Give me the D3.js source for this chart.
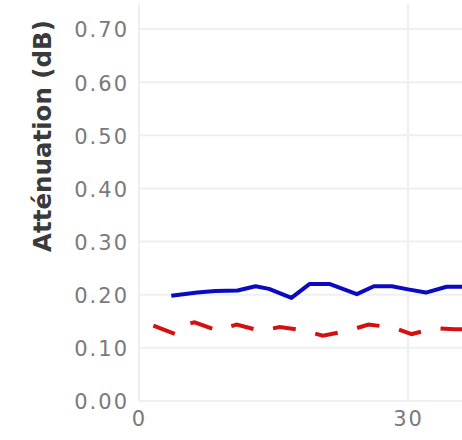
<!DOCTYPE html>
<html>
<head>
<meta charset="utf-8">
<script src="https://cdn.jsdelivr.net/npm/d3@7"></script>
<style>
  html, body { margin: 0; padding: 0; background: #fff; }
  svg { display: block; }
</style>
</head>
<body>
<svg id="chart" width="462" height="440"></svg>
<script>
// ---- data ----
const blueX = [3.6, 6.5, 8.5, 11, 13, 14.5, 17, 19, 21.3, 24.3, 26.2, 28.2, 30, 32, 34.3, 36.5];
const blueY = [0.198, 0.204, 0.207, 0.208, 0.216, 0.211, 0.194, 0.220, 0.220, 0.201, 0.216, 0.216, 0.210, 0.204, 0.215, 0.215];
const redX = [1.6, 4.2, 5.6, 6.2, 8.7, 10.9, 13.5, 15.7, 18.3, 20.5, 23.3, 25.6, 28.4, 30.4, 33, 35.2, 36.5];
const redY = [0.142, 0.125, 0.146, 0.148, 0.133, 0.144, 0.132, 0.139, 0.133, 0.123, 0.132, 0.144, 0.138, 0.126, 0.137, 0.135, 0.135];
const yTicks = [0, 0.1, 0.2, 0.3, 0.4, 0.5, 0.6, 0.7];
const xTicks = [0, 30];
const yTitle = "Atténuation (dB)";

const svg = d3.select("#chart");
const x = d3.scaleLinear().domain([0, 30]).range([139, 408]);
const y = d3.scaleLinear().domain([0, 0.7]).range([401, 29]);
const plotTop = 4;

// grid
const g = svg.append("g");
g.selectAll("line.h").data(yTicks).join("line")
  .attr("x1", x(0)).attr("x2", 462)
  .attr("y1", d => y(d)).attr("y2", d => y(d))
  .attr("stroke", "#efefef").attr("stroke-width", 2);
g.selectAll("line.v").data(xTicks).join("line")
  .attr("x1", d => x(d)).attr("x2", d => x(d))
  .attr("y1", plotTop).attr("y2", y(0))
  .attr("stroke", "#efefef").attr("stroke-width", 2);

// y axis
const yAxis = svg.append("g").attr("transform", `translate(${x(0) - 10},0)`)
  .call(d3.axisLeft(y).tickValues(yTicks).tickFormat(d3.format(".2f")).tickSize(0).tickPadding(0));
yAxis.select(".domain").remove();
yAxis.selectAll("text")
  .attr("font-family", "DejaVu Sans, sans-serif")
  .attr("font-size", 21).attr("fill", "#7a7a7a")
  .attr("letter-spacing", 2)
  .attr("dy", "0.38em");

// x axis
const xAxis = svg.append("g").attr("transform", `translate(0,${y(0) + 10})`)
  .call(d3.axisBottom(x).tickValues(xTicks).tickFormat(d3.format("d")).tickSize(0).tickPadding(0));
xAxis.select(".domain").remove();
xAxis.selectAll("text")
  .attr("font-family", "DejaVu Sans, sans-serif")
  .attr("font-size", 21).attr("fill", "#7a7a7a")
  .attr("letter-spacing", 2)
  .attr("dy", "0.71em");

// y title
svg.append("text")
  .attr("transform", `translate(51,136) rotate(-90)`)
  .attr("text-anchor", "middle")
  .attr("font-family", "DejaVu Sans, sans-serif")
  .attr("font-weight", "bold")
  .attr("font-size", 24.5)
  .attr("fill", "#3a3a3a")
  .text(yTitle);

// lines
const line = d3.line().x(d => x(d[0])).y(d => y(d[1]));
svg.append("path")
  .datum(redX.map((v, i) => [v, redY[i]]))
  .attr("d", line).attr("fill", "none")
  .attr("stroke", "#d41010").attr("stroke-width", 4)
  .attr("stroke-dasharray", "23,20");
svg.append("path")
  .datum(blueX.map((v, i) => [v, blueY[i]]))
  .attr("d", line).attr("fill", "none")
  .attr("stroke", "#0a0ac0").attr("stroke-width", 4)
  .attr("stroke-linejoin", "round");
</script>
</body>
</html>
